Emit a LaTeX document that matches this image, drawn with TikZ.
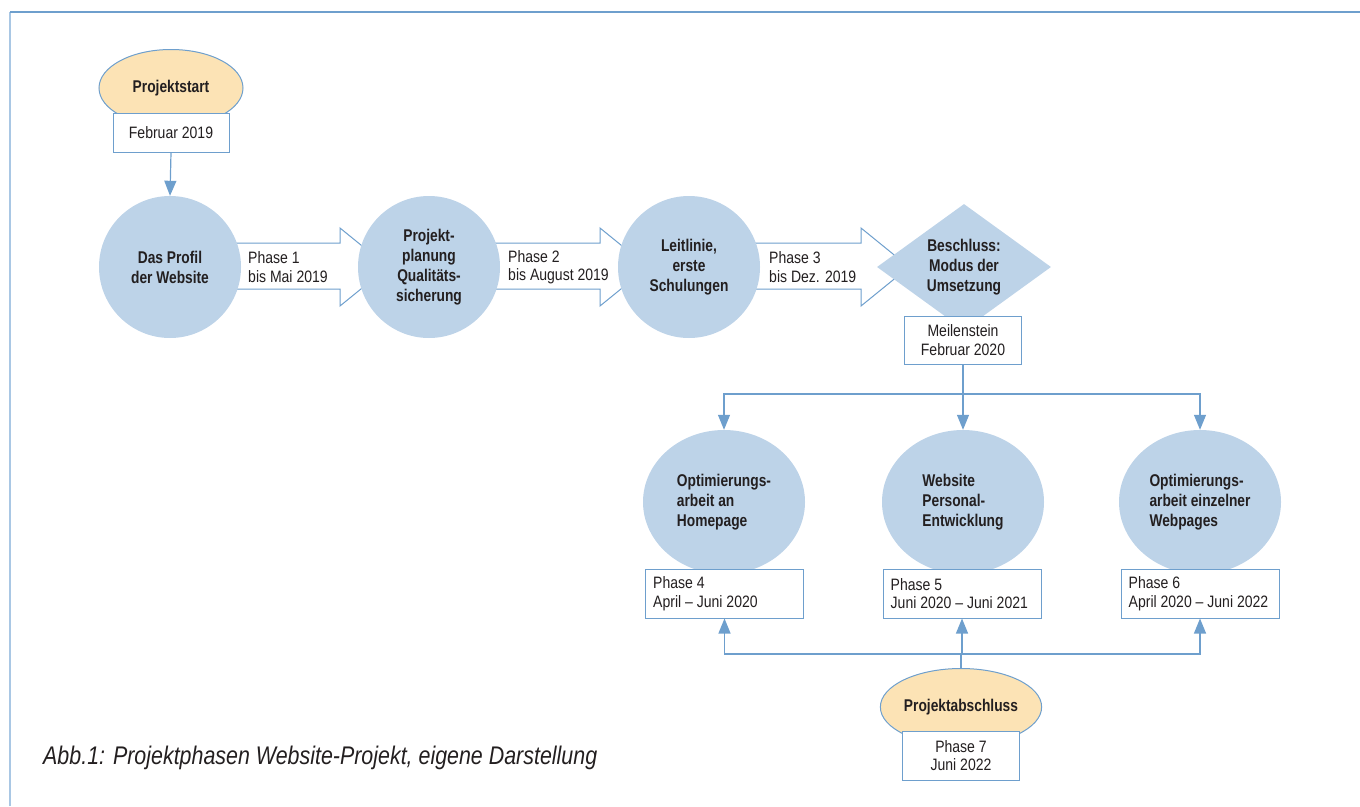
\documentclass[tikz,border=0pt]{standalone}
\usepackage{fontspec}
\setmainfont[FakeStretch=0.85, BoldFeatures={FakeStretch=0.81}, ItalicFeatures={FakeStretch=0.84}]{Liberation Sans}
\usetikzlibrary{shapes.geometric,arrows.meta}
\definecolor{lineblue}{HTML}{6E9FCD}
\definecolor{frameblue}{HTML}{A9C7E4}
\definecolor{circfill}{HTML}{BDD3E8}
\definecolor{peach}{HTML}{FCE3B5}
\definecolor{txt}{HTML}{231F20}
\tikzset{
  boldfont/.style={font=\bfseries\fontsize{17}{20}\selectfont},
  regfont/.style={font=\fontsize{16.5}{18.5}\selectfont},
  circnode/.style={ellipse, fill=circfill, inner sep=0pt, text=txt, boldfont, align=center},
  topcirc/.style={circnode, minimum width=142pt, minimum height=142pt},
  botcirc/.style={circnode, minimum width=162pt, minimum height=144pt, align=left},
  startnode/.style={ellipse, fill=peach, draw=lineblue, line width=1pt, inner sep=0pt,
    minimum width=144pt, minimum height=77pt, text=txt, boldfont},
  boxnode/.style={rectangle, draw=lineblue, fill=white, line width=1pt, inner sep=0pt,
    text=txt, regfont},
  phasebox/.style={boxnode, minimum width=158pt, minimum height=49pt},
  boxtext/.style={anchor=west, inner sep=0pt, align=left, text=txt, regfont},
  blockarrow/.style={draw=lineblue, fill=white, line width=1pt, line join=miter},
  arrlabel/.style={anchor=west, align=left, text=txt, regfont, inner sep=0pt},
  conn/.style={draw=lineblue, line width=1.2pt},
  connarr/.style={conn, -{Triangle[width=12pt,length=15pt]}},
}
\begin{document}
\begin{tikzpicture}[x=1pt,y=-1pt]
\useasboundingbox (0,0) rectangle (1360,806);
% frame
\draw[frameblue, line width=1.5pt] (10,806) -- (10,12);
\draw[lineblue, line width=1.5pt] (10,12) -- (1360,12);

% block arrows
\draw[blockarrow] (171,243) -- (340,243) -- (340,228) -- (388,267) -- (340,306) -- (340,289) -- (171,289) -- cycle;
\draw[blockarrow] (429,243) -- (600,243) -- (600,228) -- (648,267) -- (600,306) -- (600,289) -- (429,289) -- cycle;
\draw[blockarrow] (689,243) -- (861,243) -- (861,228) -- (909,267) -- (861,306) -- (861,289) -- (689,289) -- cycle;

\node[arrlabel] (l1) at (248,267) {Phase 1\\bis Mai 2019};
\node[arrlabel] (l2) at (508,267) {Phase 2\\bis August 2019};
\node[arrlabel] (l3) at (769,267) {Phase 3\\bis Dez. 2019};

% top row
\node[topcirc] (c1) at (170,267) {Das Profil\\der Website};
\node[topcirc] (c2) at (429,267) {Projekt-\\planung\\Qualitäts-\\sicherung};
\node[topcirc] (c3) at (689,267) {Leitlinie,\\erste\\Schulungen};
\node[diamond, fill=circfill, inner sep=0pt, minimum width=174pt, minimum height=126pt, aspect=1.38,
      text=txt, boldfont, align=center] (d) at (964,267) {Beschluss:\\Modus der\\Umsetzung};

% start
\node[startnode] (ps) at (171,88) {Projektstart};
\node[boxnode, minimum width=116pt, minimum height=39pt] (b0) at (171,132.5) {Februar 2019};
\draw[connarr] (b0.south) -- (c1.north);

\node[boxnode, minimum width=117pt, minimum height=48pt, align=center] (ms) at (963,340) {Meilenstein\\Februar 2020};

% bottom row
\node[botcirc] (c4) at (724,502) {Optimierungs-\\arbeit an\\Homepage};
\node[botcirc] (c5) at (963,502) {Website\\Personal-\\Entwicklung};
\node[botcirc] (c6) at (1200,502) {Optimierungs-\\arbeit einzelner\\Webpages};

\node[phasebox] (p4) at (724.5,593.5) {};
\node[phasebox] (p5) at (962,593.5) {};
\node[phasebox] (p6) at (1200,593.5) {};
\node[boxtext] (t4) at ([xshift=8pt]p4.west) {Phase 4\\April -- Juni 2020};
\node[boxtext] (t5) at ([xshift=8pt]p5.west) {Phase 5\\Juni 2020 -- Juni 2021};
\node[boxtext] (t6) at ([xshift=8pt]p6.west) {Phase 6\\April 2020 -- Juni 2022};

\coordinate (fork) at (963,394);
\draw[conn] (ms.south) -- (fork);
\draw[connarr] (fork) -| (c4.north);
\draw[connarr] (fork) -- (c5.north);
\draw[connarr] (fork) -| (c6.north);

% end
\node[startnode] (pe) at (961,707) {Projektabschluss};
\node[boxnode, minimum width=117pt, minimum height=49pt, align=center] (b7) at (961,755.5) {Phase 7\\Juni 2022};

\coordinate (join) at (961,654);
\draw[conn] (pe.north) -- (join);
\draw[connarr] (join) -| (p4.south);
\draw[connarr] (join) -| (p5.south);
\draw[connarr] (join) -| (p6.south);

% caption
\node[anchor=west, inner sep=0pt, text=txt, font=\itshape\fontsize{25.5}{28}\selectfont] (cap) at (43,758) {Abb.1: Projektphasen Website-Projekt, eigene Darstellung};
\end{tikzpicture}
\end{document}
